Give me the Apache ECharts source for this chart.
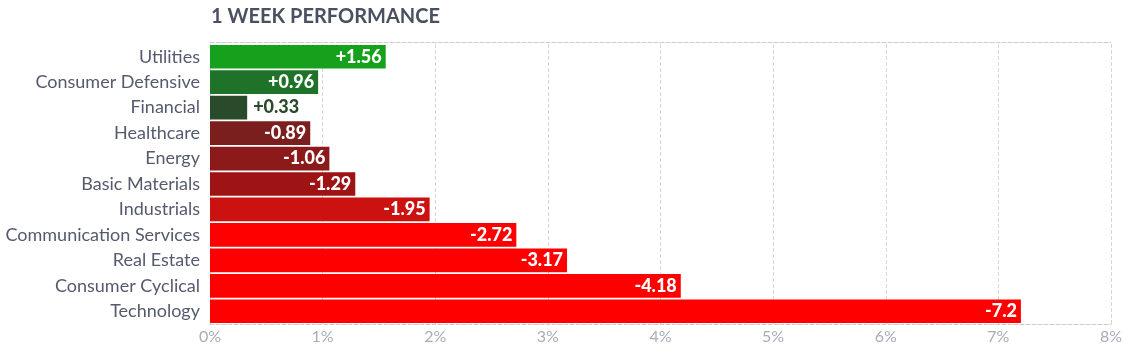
<!DOCTYPE html>
<html><head><meta charset="utf-8">
<script src="https://cdn.jsdelivr.net/npm/echarts@6/dist/echarts.min.js"></script>
<style>html,body{margin:0;padding:0;background:#fff}#c{width:1128px;height:357px}</style>
</head><body><div id="c"></div>
<script>
const categories = ["Utilities","Consumer Defensive","Financial","Healthcare","Energy","Basic Materials","Industrials","Communication Services","Real Estate","Consumer Cyclical","Technology"];
const values = [1.56, 0.96, 0.33, -0.89, -1.06, -1.29, -1.95, -2.72, -3.17, -4.18, -7.2];
const tickLabels = ["0%","1%","2%","3%","4%","5%","6%","7%","8%"];
const barColors = ["#15a11b","#1f7328","#294a2b","#7b1e1e","#8c1a1a","#9e1414","#cc1111","#ff0000","#ff0000","#ff0000","#ff0000"];

const chart = echarts.init(document.getElementById('c'), null, {renderer:'canvas'});
const fmt = v => (v > 0 ? '+' : '') + String(v);
const data = values.map((v, i) => {
  const small = Math.abs(v) < 0.6;
  return {
    value: Math.abs(v),
    itemStyle: {color: barColors[i]},
    label: small ? {position: 'right', color: '#2b4a2c', distance: 6} : {}
  };
});
chart.setOption({
  animation: false,
  title: {text: '1 WEEK PERFORMANCE', left: 206, top: 2,
    textStyle: {fontFamily: 'Lato', fontWeight: 'bold', fontSize: 20, color: '#4b5060'}},
  grid: {left: 210, right: 17, top: 44, bottom: 33, containLabel: false},
  xAxis: [{
    type: 'value', min: 0, max: 8, interval: 1,
    axisLine: {show: true, lineStyle: {color: '#cccccc', type: 'dashed'}},
    axisTick: {show: false},
    splitLine: {show: true, lineStyle: {color: '#d6d6d6', type: 'dashed'}},
    axisLabel: {formatter: v => tickLabels[v], color: '#a9acb8', fontFamily: 'Lato', fontSize: 16, margin: 5}
  }, {
    type: 'value', position: 'top', min: 0, max: 8, interval: 1, offset: 2,
    axisLine: {show: true, lineStyle: {color: '#cccccc', type: 'dashed'}},
    axisTick: {show: false}, axisLabel: {show: false}, splitLine: {show: false}
  }],
  yAxis: {
    type: 'category', data: categories, inverse: true,
    axisLine: {show: false}, axisTick: {show: false},
    axisLabel: {color: '#555b6d', fontFamily: 'Lato', fontSize: 18, margin: 10}
  },
  series: [{
    type: 'bar', data: data, barCategoryGap: '7%',
    label: {show: true, position: 'insideRight', distance: 4, color: '#ffffff',
      fontFamily: 'Lato', fontWeight: 900, fontSize: 18,
      formatter: p => fmt(values[p.dataIndex])}
  }]
});
</script></body></html>
